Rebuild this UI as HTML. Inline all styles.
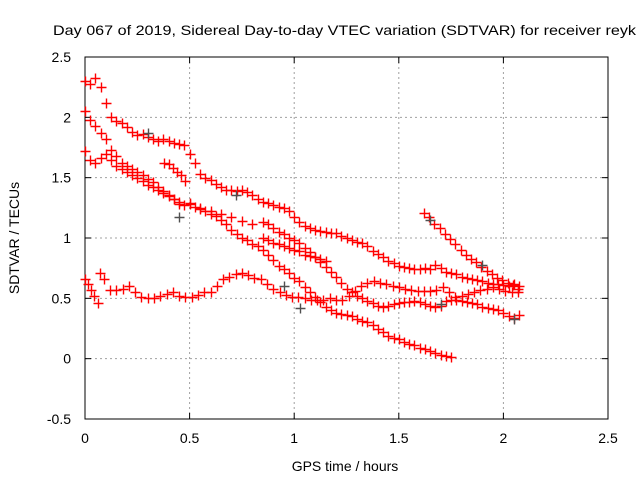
<!DOCTYPE html>
<html><head><meta charset="utf-8"><style>
html,body{margin:0;padding:0;background:#fff;}
svg{display:block;font-family:"Liberation Sans",sans-serif;}
</style></head><body>
<svg id="chart" width="640" height="480" viewBox="0 0 640 480" xmlns="http://www.w3.org/2000/svg">
<text x="53" y="35" font-size="14" textLength="583" lengthAdjust="spacingAndGlyphs">Day 067 of 2019, Sidereal Day-to-day VTEC variation (SDTVAR) for receiver reyk</text>
<g id="grid"></g>
<g id="axes"></g>
<g id="marks"></g>
<text x="345" y="471" font-size="14" text-anchor="middle">GPS time / hours</text>
<text transform="translate(19,238) rotate(-90)" font-size="14" text-anchor="middle">SDTVAR / TECUs</text>
</svg>
<script>
const xTicks=[0,0.5,1,1.5,2,2.5];
const xTickLabels=["0","0.5","1","1.5","2","2.5"];
const yTicks=[-0.5,0,0.5,1,1.5,2,2.5];
const yTickLabels=["-0.5","0","0.5","1","1.5","2","2.5"];
const s1x=[0,.025,.05,.075,.1,.125,.15,.175,.2,.225,.25,.275,.3,.325,.35,.375,.4,.425,.45,.475,.5,.525,.55,.575,.6,.625,.65,.675,.7,.725,.75,.775,.8,.825,.85,.875,.9,.925,.95,.975,1,1.025,1.05,1.075,1.1,1.125,1.15,1.175,1.2,1.225,1.25,1.275,1.3,1.325,1.35,1.375,1.4,1.425,1.45,1.475,1.5,1.525,1.55,1.575,1.6,1.625,1.65,1.675,1.7,1.725,1.75,1.775,1.8,1.825,1.85,1.875,1.9,1.925,1.95,1.975,2,2.025,2.05,2.075];
const s1y=[2.30,2.28,2.33,2.25,2.12,2.0,1.97,1.95,1.92,1.88,1.85,1.86,1.84,1.82,1.80,1.82,1.80,1.79,1.78,1.77,1.70,1.62,1.53,1.50,1.48,1.45,1.42,1.40,1.40,1.39,1.40,1.38,1.36,1.32,1.30,1.29,1.27,1.26,1.25,1.22,1.17,1.13,1.10,1.08,1.07,1.06,1.05,1.04,1.04,1.02,1.00,0.98,0.97,0.96,0.93,0.89,0.87,0.84,0.81,0.79,0.77,0.76,0.75,0.74,0.74,0.75,0.74,0.78,0.75,0.72,0.71,0.70,0.68,0.67,0.66,0.65,0.64,0.63,0.62,0.62,0.61,0.60,0.62,0.60];
const s1bx=[.38,.4,.42,.44,.46,.48];
const s1by=[1.62,1.61,1.58,1.55,1.52,1.47];
const s2x=[0,.025,.05,.075,.1,.125,.15,.175,.2,.225,.25,.275,.3,.325,.35,.375,.4,.425,.45,.475,.5,.525,.55,.575,.6,.625,.65,.675,.7,.725,.75,.775,.8,.825,.85,.875,.9,.925,.95,.975,1,1.025,1.05,1.075,1.1,1.125,1.15,1.175,1.2,1.225,1.25,1.275,1.3,1.325,1.35,1.375,1.4,1.425,1.45,1.475,1.5,1.525,1.55,1.575,1.6,1.625,1.65,1.675,1.7,1.725,1.75];
const s2y=[2.05,1.98,1.93,1.87,1.82,1.73,1.68,1.62,1.60,1.57,1.55,1.52,1.49,1.46,1.42,1.39,1.36,1.32,1.28,1.27,1.29,1.26,1.24,1.22,1.20,1.18,1.15,1.12,1.07,1.03,1.00,0.98,0.95,0.93,0.90,0.86,0.82,0.77,0.74,0.71,0.67,0.64,0.59,0.55,0.51,0.47,0.43,0.40,0.38,0.37,0.36,0.35,0.33,0.31,0.30,0.28,0.25,0.22,0.19,0.17,0.16,0.14,0.12,0.11,0.09,0.08,0.06,0.05,0.03,0.02,0.01];
const s3x=[0,.025,.05,.075,.1,.125,.15,.175,.2,.225,.25,.275,.3,.325,.35,.375,.4,.425,.45,.5,.55,.6,.65,.7,.75,.8,.85,.875,.9,.925,.95,.975,1,1.025,1.05,1.075,1.1,1.125,1.15,1.175,1.2,1.225,1.25,1.275,1.3,1.325,1.35,1.375,1.4,1.425,1.45,1.475,1.5,1.525,1.55,1.575,1.6,1.625,1.65,1.675,1.7,1.725,1.75,1.775,1.8,1.825,1.85,1.875,1.9,1.925,1.95,1.975,2,2.025,2.05,2.075];
const s3y=[1.72,1.65,1.62,1.66,1.70,1.65,1.60,1.57,1.55,1.52,1.50,1.47,1.44,1.42,1.40,1.37,1.35,1.32,1.30,1.28,1.25,1.22,1.20,1.17,1.14,1.12,1.13,1.12,1.08,1.05,1.03,1.00,0.98,0.96,0.92,0.88,0.84,0.80,0.76,0.72,0.68,0.63,0.58,0.55,0.52,0.50,0.48,0.46,0.44,0.43,0.44,0.45,0.46,0.47,0.47,0.48,0.47,0.45,0.44,0.43,0.44,0.48,0.49,0.49,0.48,0.47,0.46,0.45,0.43,0.42,0.41,0.40,0.38,0.35,0.34,0.36];
const s4x=[.85,.875,.9,.925,.95,.975,1,1.025,1.05,1.075,1.1,1.125,1.15];
const s4y=[1.0,0.98,0.96,0.95,0.93,0.92,0.90,0.89,0.86,0.85,0.84,0.83,0.81];
const s5x=[0,.015,.03,.045,.06,.07,.09,.12,.15,.18,.21,.24,.27,.3,.33,.36,.39,.42,.45,.48,.51,.54,.57,.6,.63,.66,.69,.72,.75,.78,.81,.84,.87,.9,.93,.96,.99,1.02,1.05,1.08,1.11,1.14,1.17,1.2,1.23,1.26,1.29,1.32,1.35,1.38,1.41,1.44,1.47,1.5,1.53,1.56,1.59,1.62,1.65,1.68,1.71,1.74,1.77,1.8,1.83,1.86,1.89,1.92,1.95,1.98,2.01,2.04,2.07];
const s5y=[0.66,0.62,0.57,0.52,0.46,0.71,0.66,0.57,0.57,0.58,0.60,0.55,0.51,0.50,0.50,0.52,0.54,0.55,0.52,0.51,0.51,0.53,0.55,0.55,0.60,0.66,0.68,0.70,0.71,0.69,0.67,0.66,0.62,0.58,0.55,0.53,0.51,0.51,0.50,0.49,0.49,0.49,0.50,0.49,0.49,0.52,0.56,0.60,0.63,0.64,0.63,0.62,0.60,0.59,0.58,0.57,0.56,0.56,0.56,0.57,0.59,0.55,0.51,0.52,0.54,0.55,0.57,0.58,0.59,0.58,0.56,0.55,0.55];
const s6x=[1.62,1.645,1.67,1.695,1.72,1.745,1.77,1.795,1.82,1.845,1.87,1.895,1.92,1.945,1.97,1.995,2.02,2.045,2.07];
const s6y=[1.21,1.17,1.12,1.08,1.03,0.99,0.95,0.90,0.86,0.83,0.80,0.76,0.73,0.70,0.67,0.65,0.63,0.61,0.58];
const greyx=[0.3,0.45,0.72,0.95,1.03,1.65,1.9,2.05,1.7];
const greyy=[1.87,1.17,1.36,0.6,0.42,1.15,0.78,0.33,0.45];

const L=85,R=608,T=57,B=419;
const xMin=0,xMax=2.5,yMin=-0.5,yMax=2.5;
function sx(v){return L+(v-xMin)/(xMax-xMin)*(R-L);}
function sy(v){return B-(v-yMin)/(yMax-yMin)*(B-T);}
const NS="http://www.w3.org/2000/svg";
function mk(tag,attrs,parent){const e=document.createElementNS(NS,tag);for(const k in attrs)e.setAttribute(k,attrs[k]);parent.appendChild(e);return e;}
const grid=document.getElementById('grid'),axes=document.getElementById('axes'),marks=document.getElementById('marks');
xTicks.forEach((t,i)=>{
  const x=sx(t);
  if(i>0&&i<xTicks.length-1){const g=mk('line',{x1:x,x2:x,y1:T,y2:B,stroke:'#a0a0a0','stroke-dasharray':'2,3'},grid);
  
  }
  mk('line',{x1:x,x2:x,y1:B,y2:B-6,stroke:'#000'},axes);
  mk('line',{x1:x,x2:x,y1:T,y2:T+6,stroke:'#000'},axes);
  const tx=mk('text',{x:x,y:443,'font-size':14,'text-anchor':'middle'},axes);
  tx.textContent=xTickLabels[i];
  
  
});
yTicks.forEach((t,i)=>{
  const y=sy(t);
  if(i>0&&i<yTicks.length-1){const g=mk('line',{x1:L,x2:R,y1:y,y2:y,stroke:'#a0a0a0','stroke-dasharray':'2,3'},grid);
  
  }
  mk('line',{x1:L,x2:L+6,y1:y,y2:y,stroke:'#000'},axes);
  mk('line',{x1:R,x2:R-6,y1:y,y2:y,stroke:'#000'},axes);
  const tx=mk('text',{x:71,y:y+5,'font-size':14,'text-anchor':'end'},axes);
  tx.textContent=yTickLabels[i];
  
  
});
const box=mk('rect',{x:L,y:T,width:R-L,height:B-T,fill:'none',stroke:'#000'},axes);


function plus(x,y,c){
  const px=Math.round(sx(x))+0.5,py=Math.round(sy(y))+0.5;
  const p=mk('path',{d:`M${px-5},${py}H${px+5}M${px},${py-5}V${py+5}`,stroke:c,'stroke-width':1.4,fill:'none'},marks);
  
  
}
const series=[[s1x,s1y],[s1bx,s1by],[s2x,s2y],[s3x,s3y],[s4x,s4y],[s5x,s5y],[s6x,s6y]];
series.forEach(s=>{s[0].forEach((x,i)=>plus(x,s[1][i],'#ff0000'));});
greyx.forEach((x,i)=>plus(x,greyy[i],'#505050'));
</script>
</body></html>
